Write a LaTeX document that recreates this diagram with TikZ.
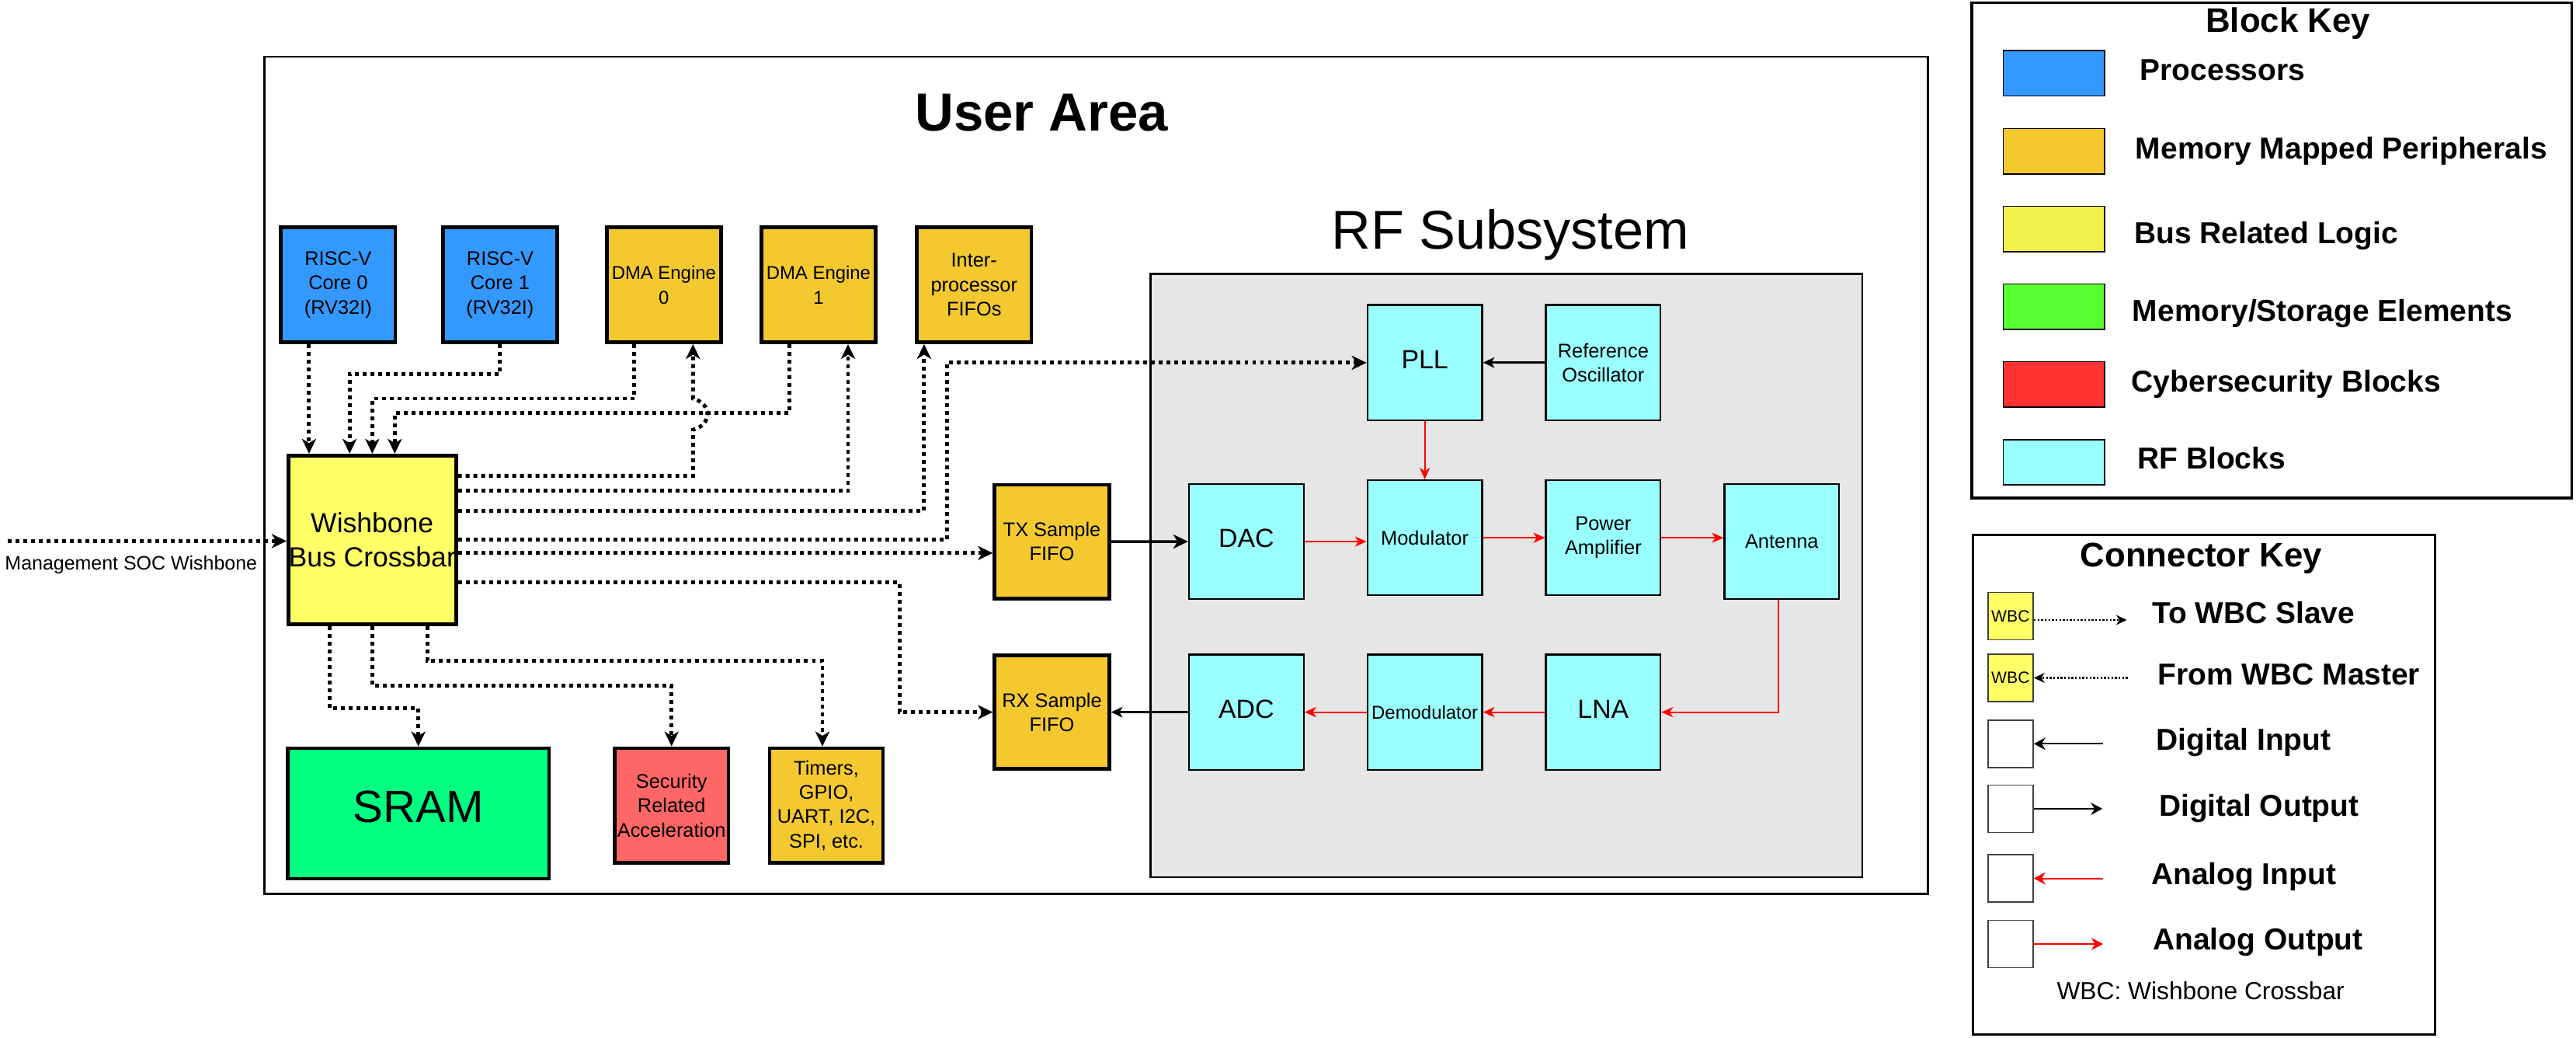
\documentclass[tikz,border=0pt]{standalone}
\usepackage{fontspec}
\setmainfont{Liberation Sans}
\usetikzlibrary{arrows.meta}
\definecolor{cpu}{HTML}{3399FF}
\definecolor{mmp}{HTML}{F3C92F}
\definecolor{bus}{HTML}{FFFF66}
\definecolor{sramc}{HTML}{00FF80}
\definecolor{secc}{HTML}{FF6666}
\definecolor{rfc}{HTML}{99FFFF}
\definecolor{rfbg}{HTML}{E6E6E6}
\definecolor{keybus}{HTML}{F2F24C}
\definecolor{keymem}{HTML}{58FF33}
\definecolor{keysec}{HTML}{FF3333}
\definecolor{redline}{HTML}{FF0000}
\begin{document}
\begin{tikzpicture}[x=1pt,y=-1pt,
  fa/.style={font=\fontsize{12}{14.8}\selectfont},
  fdma/.style={font=\fontsize{11.3}{15}\selectfont},
  fbig/.style={font=\fontsize{16}{19}\selectfont, text depth=4pt},
  fkey/.style={font=\fontsize{18.4}{22}\selectfont\bfseries},
  ftitle/.style={font=\fontsize{20.7}{24}\selectfont\bfseries},
  tb/.style={draw=black, line width=2.2pt, align=center, inner sep=0pt, text=black},
  topblk/.style={tb, minimum width=69.6pt, minimum height=70pt},
  rfb/.style={draw=black, line width=1.1pt, fill=rfc, align=center, inner sep=0pt,
              minimum width=69.8pt, minimum height=70pt},
  wbl/.style={line width=2.35pt, dash pattern=on 2.35pt off 2.38pt,
              -{Stealth[length=9pt,width=8.6pt,inset=2.6pt]}},
  redl/.style={draw=redline, line width=1pt, -{Stealth[length=7pt,width=6.2pt,inset=2pt]}},
  blkl/.style={draw=black, line width=1.2pt, -{Stealth[length=7pt,width=6.5pt,inset=2pt]}},
  blkthick/.style={draw=black, line width=1.7pt, -{Stealth[length=9pt,width=8.5pt,inset=2.5pt]}},
  keysq/.style={draw=black, line width=0.8pt, inner sep=0pt, minimum width=61.6pt, minimum height=27.5pt},
  cks/.style={draw=black!75, line width=0.8pt, inner sep=0pt, minimum width=27.6pt, minimum height=28.9pt,
              font=\fontsize{10}{12}\selectfont},
  kdot/.style={draw=black, line width=1.1pt, dash pattern=on 1.1pt off 1.1pt,
               -{Stealth[length=6.5pt,width=6pt,inset=2pt]}},
  kblk/.style={draw=black, line width=1pt, -{Stealth[length=7pt,width=7.5pt,inset=2.2pt]}},
  kred/.style={draw=redline, line width=1pt, -{Stealth[length=7pt,width=7.5pt,inset=2.2pt]}}
]
\useasboundingbox (0,0) rectangle (1568,631.1);

% containers
\draw[line width=1.3pt] (160.9,34.5) rectangle (1173.6,543.8);
\draw[line width=1.2pt, fill=rfbg] (700.2,166.7) rectangle (1133.6,533.6);
\node[font=\fontsize{32.6}{39}\selectfont\bfseries, anchor=base] (uatitle) at (634,79.8) {User Area};
\node[font=\fontsize{33.2}{40}\selectfont, anchor=base] (rftitle) at (919.3,151.7) {RF Subsystem};

% top row
\node[topblk, fill=cpu, fa] (core0) at (205.8,173.3) {RISC-V\\Core 0\\(RV32I)};
\node[topblk, fill=cpu, fa] (core1) at (304.4,173.3) {RISC-V\\Core 1\\(RV32I)};
\node[topblk, fill=mmp, fdma] (dma0) at (404.1,173.3) {DMA Engine\\0};
\node[topblk, fill=mmp, fdma] (dma1) at (498.2,173.3) {DMA Engine\\1};
\node[topblk, fill=mmp, fa] (fifo) at (592.9,173.3) {Inter-\\processor\\FIFOs};

% crossbar
\node[tb, fill=bus, minimum width=102.1pt, minimum height=102.8pt,
      font=\fontsize{16.8}{21}\selectfont] (wb) at (226.55,328.5) {Wishbone\\Bus Crossbar};

% bottom row
\node[tb, fill=sramc, minimum width=159.1pt, minimum height=79.4pt,
      font=\fontsize{27.5}{33}\selectfont, text depth=8pt] (sram) at (254.65,494.9) {SRAM};
\node[tb, fill=secc, minimum width=69.3pt, minimum height=69.7pt, fa] (sec) at (408.75,490.05) {Security\\Related\\Acceleration};
\node[tb, fill=mmp, minimum width=69pt, minimum height=69.7pt, fa] (tim) at (503,490.05) {Timers,\\GPIO,\\UART, I2C,\\SPI, etc.};

% sample fifos
\node[tb, fill=mmp, minimum width=69.8pt, minimum height=69.1pt, fa] (tx) at (640.3,329.55) {TX Sample\\FIFO};
\node[tb, fill=mmp, minimum width=69.8pt, minimum height=69.1pt, fa] (rx) at (640.3,433.3) {RX Sample\\FIFO};

% RF blocks
\node[rfb, fbig] (pll) at (867.25,220.6) {PLL};
\node[rfb, fa] (refosc) at (975.85,220.6) {Reference\\Oscillator};
\node[rfb, fbig] (dac) at (758.65,329.5) {DAC};
\node[rfb, fa] (mod) at (867.25,327.2) {Modulator};
\node[rfb, fa] (pa) at (975.85,327.2) {Power\\Amplifier};
\node[rfb, fa] (ant) at (1084.55,329.5) {Antenna};
\node[rfb, fbig] (adc) at (758.65,433.3) {ADC};
\node[rfb, font=\fontsize{11.3}{14}\selectfont] (demod) at (867.25,433.3) {Demodulator};
\node[rfb, fbig] (lna) at (975.85,433.3) {LNA};

% management input
\coordinate (mgmt) at (4.7,329.2);
\node[font=\fontsize{11.8}{14}\selectfont, anchor=base] (mgmtlbl) at (79.8,346.8) {Management SOC Wishbone};
\draw[wbl] (mgmt) -- (wb.west |- mgmt);

% masters into crossbar
\draw[wbl] (core0.south -| 188.1,0) -- (wb.north -| 188.1,0);
\draw[wbl] (core1.south) -- (core1.south |- 0,227.5) -- (212.8,227.5) -- (wb.north -| 212.8,0);
\draw[wbl] (dma0.south -| 386.1,0) -- (386.1,242.5) -- (226.6,242.5) -- (wb.north -| 226.6,0);
\draw[wbl] (dma1.south -| 480.6,0) -- (480.6,251.1) -- (240.3,251.1) -- (wb.north -| 240.3,0);

% crossbar to slaves
\draw[wbl] (wb.east |- 0,289.5) -- (421.8,289.5) -- (421.8,261.5)
   .. controls (433.5,258.5) and (433.5,245.5) .. (421.8,242.5) -- (dma0.south -| 421.8,0);
\draw[wbl] (wb.east |- 0,298.6) -- (516.2,298.6) -- (dma1.south -| 516.2,0);
\draw[wbl] (wb.east |- 0,310.6) -- (562.5,310.6) -- (fifo.south -| 562.5,0);
\draw[wbl] (wb.east |- 0,328.4) -- (576.3,328.4) -- (576.3,220.7) -- (pll.west |- 0,220.7);
\draw[wbl] (wb.east |- 0,336.5) -- (tx.west |- 0,336.5);
\draw[wbl] (wb.east |- 0,354.5) -- (547.5,354.5) -- (547.5,433.3) -- (rx.west);
\draw[wbl] (wb.south -| 200.7,0) -- (200.7,430.9) -- (sram.north |- 0,430.9) -- (sram.north);
\draw[wbl] (wb.south) -- (wb.south |- 0,417.2) -- (sec.north |- 0,417.2) -- (sec.north);
\draw[wbl] (wb.south -| 260,0) -- (260,402.2) -- (500.6,402.2) -- (tim.north -| 500.6,0);

% RF connections
\draw[blkl] (refosc.west) -- (pll.east);
\draw[redl] (pll.south) -- (mod.north);
\draw[blkthick] (tx.east) -- (dac.west);
\draw[redl] (dac.east) -- (dac.east -| mod.west);
\draw[redl] (mod.east) -- (mod.east -| pa.west);
\draw[redl] (pa.east) -- (pa.east -| ant.west);
\draw[redl] (ant.south -| 1082.3,0) -- (1082.3,433.3) -- (lna.east);
\draw[redl] (lna.west) -- (demod.east);
\draw[redl] (demod.west) -- (adc.east);
\draw[blkl] (adc.west) -- (rx.east);

% Block key
\draw[line width=1.5pt] (1200.2,1.8) rectangle (1565.3,303);
\node[ftitle, anchor=base] (bktitle) at (1392.7,19.6) {Block Key};
\node[keysq, fill=cpu] (k1) at (1250.1,44.6) {};
\node[keysq, fill=mmp] (k2) at (1250.1,92) {};
\node[keysq, fill=keybus] (k3) at (1250.1,139.25) {};
\node[keysq, fill=keymem] (k4) at (1250.1,186.55) {};
\node[keysq, fill=keysec] (k5) at (1250.1,233.8) {};
\node[keysq, fill=rfc] (k6) at (1250.1,281.25) {};
\node[fkey, anchor=base west] (k1l) at (1299.2,49) {Processors};
\node[fkey, anchor=base west] (k2l) at (1296.4,96.5) {Memory Mapped Peripherals};
\node[fkey, anchor=base west] (k3l) at (1295.7,148.1) {Bus Related Logic};
\node[fkey, anchor=base west] (k4l) at (1294.5,195.6) {Memory/Storage Elements};
\node[fkey, anchor=base west] (k5l) at (1294,238.3) {Cybersecurity Blocks};
\node[fkey, anchor=base west] (k6l) at (1297.6,285.4) {RF Blocks};

% Connector key
\draw[line width=1.5pt] (1201.1,325.4) rectangle (1482.3,629.3);
\node[ftitle, anchor=base] (cktitle) at (1339.9,344.8) {Connector Key};
\node[cks, fill=bus] (c1) at (1223.8,374.85) {WBC};
\node[cks, fill=bus] (c2) at (1223.8,412.45) {WBC};
\node[cks, fill=white] (c3) at (1223.8,452.55) {};
\node[cks, fill=white] (c4) at (1223.8,492.1) {};
\node[cks, fill=white] (c5) at (1223.8,534.45) {};
\node[cks, fill=white] (c6) at (1223.8,574.35) {};
\coordinate (e1) at (1294.6,377.2);
\coordinate (e2) at (1295,412.45);
\coordinate (e3) at (1280.2,452.55);
\coordinate (e4) at (1279.7,492.1);
\coordinate (e5) at (1280,534.45);
\coordinate (e6) at (1280,574.35);
\draw[kdot] (c1.east |- e1) -- (e1);
\draw[kdot] (e2) -- (c2.east);
\draw[kblk] (e3) -- (c3.east);
\draw[kblk] (c4.east) -- (e4);
\draw[kred] (e5) -- (c5.east);
\draw[kred] (c6.east) -- (e6);
\node[fkey, anchor=base west] (c1l) at (1306.4,379.2) {To WBC Slave};
\node[fkey, anchor=base west] (c2l) at (1310,416.8) {From WBC Master};
\node[fkey, anchor=base west] (c3l) at (1309,456.5) {Digital Input};
\node[fkey, anchor=base west] (c4l) at (1310.7,496.5) {Digital Output};
\node[fkey, anchor=base west] (c5l) at (1306,538.4) {Analog Input};
\node[fkey, anchor=base west] (c6l) at (1307,578) {Analog Output};
\node[font=\fontsize{15}{18}\selectfont, anchor=base] (wbcnote) at (1339.5,608.2) {WBC: Wishbone Crossbar};
\end{tikzpicture}
\end{document}
